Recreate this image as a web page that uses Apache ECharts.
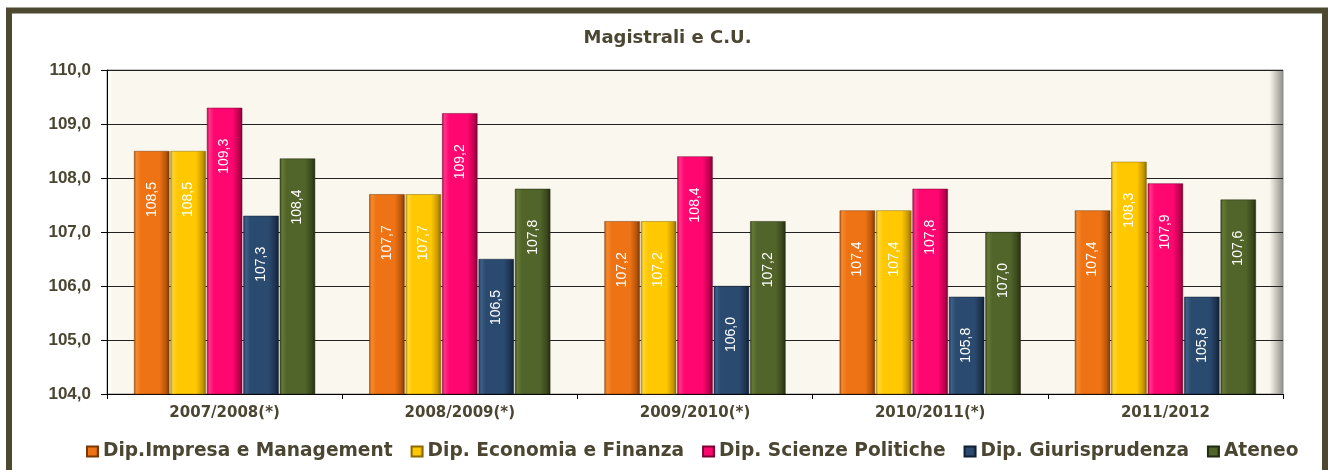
<!DOCTYPE html>
<html><head><meta charset="utf-8">
<script src="https://cdn.jsdelivr.net/npm/echarts@6/dist/echarts.min.js"></script>
<style>html,body{margin:0;padding:0;background:#fff}#c{width:1335px;height:470px}</style>
</head><body><div id="c"></div>
<script>
const titleText = 'Magistrali e C.U.';
const categories = ['2007/2008(*)', '2008/2009(*)', '2009/2010(*)', '2010/2011(*)', '2011/2012'];
const seriesNames = ['Dip.Impresa e Management', 'Dip. Economia e Finanza', 'Dip. Scienze Politiche', 'Dip. Giurisprudenza', 'Ateneo'];
const impresa  = [108.5, 107.7, 107.2, 107.4, 107.4];
const economia = [108.5, 107.7, 107.2, 107.4, 108.3];
const scienze  = [109.3, 109.2, 108.4, 107.8, 107.9];
const giuris   = [107.3, 106.5, 106.0, 105.8, 105.8];
const ateneo   = [108.36, 107.8, 107.2, 107.0, 107.6];
const yMin = 104, yMax = 110, yStep = 1;

const palette = [
  {light: '#f58a2e', base: '#ee7314', dark: '#b9560c', vdark: '#7a3806'},
  {light: '#ffd633', base: '#ffc800', dark: '#c89a00', vdark: '#8a6a00'},
  {light: '#ff3388', base: '#ff0670', dark: '#c0004f', vdark: '#7d0033'},
  {light: '#3d5f88', base: '#2b4a6f', dark: '#1d3350', vdark: '#111f33'},
  {light: '#657a36', base: '#516429', dark: '#3a481c', vdark: '#222b10'}
];
function grad(p) {
  return new echarts.graphic.LinearGradient(0, 0, 1, 0, [
    {offset: 0, color: p.dark},
    {offset: 0.07, color: p.light},
    {offset: 0.2, color: p.base},
    {offset: 0.72, color: p.base},
    {offset: 0.9, color: p.dark},
    {offset: 1, color: p.vdark}
  ]);
}
const values = [impresa, economia, scienze, giuris, ateneo];
const txt = '#4b4632';
const fmt = v => Number(v).toFixed(1).replace('.', ',');

const chart = echarts.init(document.getElementById('c'), null, {renderer: 'canvas'});
chart.setOption({
  animation: false,
  backgroundColor: '#ffffff',
  title: {
    text: titleText, left: 'center', top: 24,
    textStyle: {fontFamily: 'DejaVu Sans', fontWeight: 'bold', fontSize: 18, color: txt}
  },
  legend: {
    left: 81, top: 437, itemWidth: 11, itemHeight: 10, itemGap: 18,
    icon: 'rect',
    textStyle: {fontFamily: 'DejaVu Sans', fontWeight: 'bold', fontSize: 18.6, color: txt}
  },
  grid: {
    left: 107, right: 52, top: 70, bottom: 76, show: true,
    backgroundColor: new echarts.graphic.LinearGradient(0, 0, 1, 0, [
      {offset: 0, color: '#ffffff'},
      {offset: 0.006, color: '#f9f7ee'},
      {offset: 0.988, color: '#f9f7ee'},
      {offset: 1, color: '#8f8d85'}
    ]),
    borderColor: '#8a8a8a', borderWidth: 1
  },
  xAxis: {
    type: 'category', data: categories,
    axisLine: {lineStyle: {color: '#000', width: 1}},
    axisTick: {show: true, length: 5, lineStyle: {color: '#000'}},
    axisLabel: {fontFamily: 'DejaVu Sans', fontWeight: 'bold', fontSize: 15, color: txt, margin: 12}
  },
  yAxis: {
    type: 'value', min: yMin, max: yMax, interval: yStep,
    axisLine: {show: true, lineStyle: {color: '#000', width: 1}},
    axisTick: {show: true, length: 6, lineStyle: {color: '#000'}},
    splitLine: {show: true, lineStyle: {color: '#222', width: 1}},
    axisLabel: {formatter: fmt, fontFamily: 'Liberation Sans', fontWeight: 'bold', fontSize: 17, color: txt, margin: 16}
  },
  series: seriesNames.map((name, i) => ({
    name, type: 'bar', data: values[i],
    barCategoryGap: '23%', barGap: '3%',
    itemStyle: {color: grad(palette[i]), borderColor: palette[i].vdark, borderWidth: 0.5},
    label: {
      show: true, position: 'insideTop', rotate: 90, align: 'right', verticalAlign: 'middle',
      distance: 31, formatter: p => fmt(p.value),
      fontFamily: 'Liberation Sans', fontSize: 14, color: '#ffffff'
    }
  })),
  graphic: [{
    type: 'rect', silent: true, z: 100,
    shape: {x: 9, y: 10.5, width: 1316, height: 520},
    style: {fill: 'none', stroke: '#4d4830', lineWidth: 6}
  }]
});
</script></body></html>
